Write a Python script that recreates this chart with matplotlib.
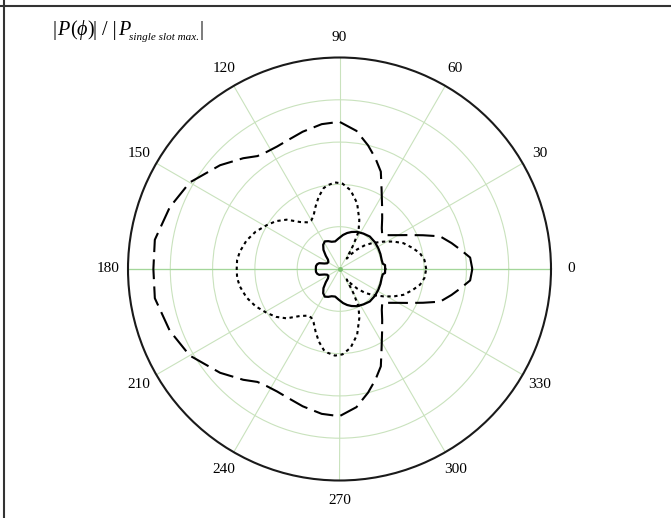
import numpy as np
import matplotlib
matplotlib.use('Agg')
import matplotlib.pyplot as plt
from matplotlib.lines import Line2D

plt.rcParams['mathtext.fontset'] = 'stix'
plt.rcParams['font.family'] = 'Liberation Serif'

# upper half of each pattern (deg, r); lower half is the mirror image
solid_ang = [0, 5, 7, 12, 20, 28, 37, 47, 56, 65, 72, 78, 84, 92, 99, 106, 112, 118,
             124, 130, 136, 141, 148, 155, 160, 164, 168, 173, 180]
solid_r = [1.08, 1.08, 1.03, 1.02, 1.03, 1.04, 1.05, 1.05, 1.01, 0.97, 0.92, 0.87, 0.81,
           0.72, 0.66, 0.67, 0.71, 0.74, 0.69, 0.59, 0.45, 0.35, 0.31, 0.32, 0.38, 0.50,
           0.54, 0.56, 0.56]

dash_ang = [0, 5, 9, 13, 18, 22, 26, 30, 34, 38.5, 44, 50, 56, 62, 67, 72, 77, 83, 90,
            97, 105, 112, 117, 122, 126, 131, 139, 150, 160, 171, 180]
dash_r = [3.14, 3.10, 2.90, 2.72, 2.50, 2.13, 1.83, 1.60, 1.43, 1.29, 1.39, 1.57, 1.80,
          2.12, 2.50, 2.75, 3.00, 3.29, 3.48, 3.45, 3.36, 3.28, 3.25, 3.26, 3.30, 3.47,
          3.74, 4.09, 4.27, 4.42, 4.40]

dot_ang = [0, 6, 11, 16, 22, 27, 32, 38, 43, 48, 52, 55, 57, 60, 63, 68, 75, 82, 88, 93,
           98, 101, 106, 111, 116, 120, 124, 130, 137, 143, 149, 156, 163, 170, 175, 180]
dot_r = [2.05, 2.02, 1.94, 1.80, 1.63, 1.43, 1.22, 1.00, 0.83, 0.62, 0.44, 0.30, 0.36,
         0.65, 0.99, 1.25, 1.61, 1.88, 2.02, 2.05, 2.00, 1.95, 1.78, 1.58, 1.40, 1.33,
         1.33, 1.45, 1.71, 1.88, 2.01, 2.17, 2.30, 2.39, 2.43, 2.43]

tick_deg = [0, 30, 60, 90, 120, 150, 180, 210, 240, 270, 300, 330]


def full(ang, r):
    a = np.array(ang, dtype=float)
    r = np.array(r, dtype=float)
    a_all = np.concatenate([a, 360 - a[::-1][1:]])
    r_all = np.concatenate([r, r[::-1][1:]])
    return np.deg2rad(a_all), r_all


W, H = 671, 518
fig = plt.figure(figsize=(W / 100, H / 100), dpi=100)
ax = fig.add_axes([128 / W, 37.5 / H, 423 / W, 423 / H], projection='polar')

ax.set_ylim(0, 5)
ax.set_rgrids([1, 2, 3, 4], labels=[])
ax.set_thetagrids(tick_deg, labels=[])
ax.grid(True, color='#c9e2bd', lw=0.8)
ax.spines['polar'].set_color('#1a1a1a')
ax.spines['polar'].set_linewidth(1.5)
ax.tick_params(length=0)

# brighter 0-180 axis
ax.plot([0, 0], [0, 5], color='#a3d69a', lw=0.9)
ax.plot([np.pi, np.pi], [0, 5], color='#a3d69a', lw=0.9)
ax.plot([0], [0], 'o', color='#7cc070', ms=2.5)

t, r = full(dash_ang, dash_r)
ax.plot(t, r, color='black', lw=1.5, dashes=(9.5, 3.5))
t, r = full(dot_ang, dot_r)
ax.plot(t, r, color='black', lw=1.5, dashes=(1.6, 1.7))
t, r = full(solid_ang, solid_r)
ax.plot(t, r, color='black', lw=1.6)

for d in tick_deg:
    ax.text(np.deg2rad(d), 5 * 1.095, str(d), ha='center', va='center',
            fontsize=11, clip_on=False)

# title built from pieces: (text, style, size, baseline drop px, gap px after)
title_parts = [('|', 'normal', 14.5, 0, 0.5), ('P', 'italic', 14.5, 0, 0), ('(', 'normal', 14.5, 0, 0),
               ('\u03d5', 'italic', 14.5, 0, 0), (')', 'normal', 14.5, 0, 0),
               ('| / |', 'normal', 14.5, 0, 0.5), ('P', 'italic', 14.5, 0, -0.5),
               ('single slot max.', 'italic', 8, 5, 0), ('|', 'normal', 14.5, 0, 0)]
fig.canvas.draw()
rend = fig.canvas.get_renderer()
x = 53
base = H - 35
for txt, style, size, drop, gap in title_parts:
    tt = fig.text(x / W, (base - drop) / H, txt, ha='left', va='baseline',
                  fontsize=size, fontstyle=style, family=['Liberation Serif', 'DejaVu Serif'])
    x = tt.get_window_extent(rend).x1 + gap

# frame lines on top and left
fig.add_artist(Line2D([0, 1], [1 - 6 / H] * 2, transform=fig.transFigure,
                      color='#333333', lw=1.5))
fig.add_artist(Line2D([4 / W] * 2, [0, 1], transform=fig.transFigure,
                      color='#333333', lw=1.5))

fig.savefig('out.png', dpi=100)
